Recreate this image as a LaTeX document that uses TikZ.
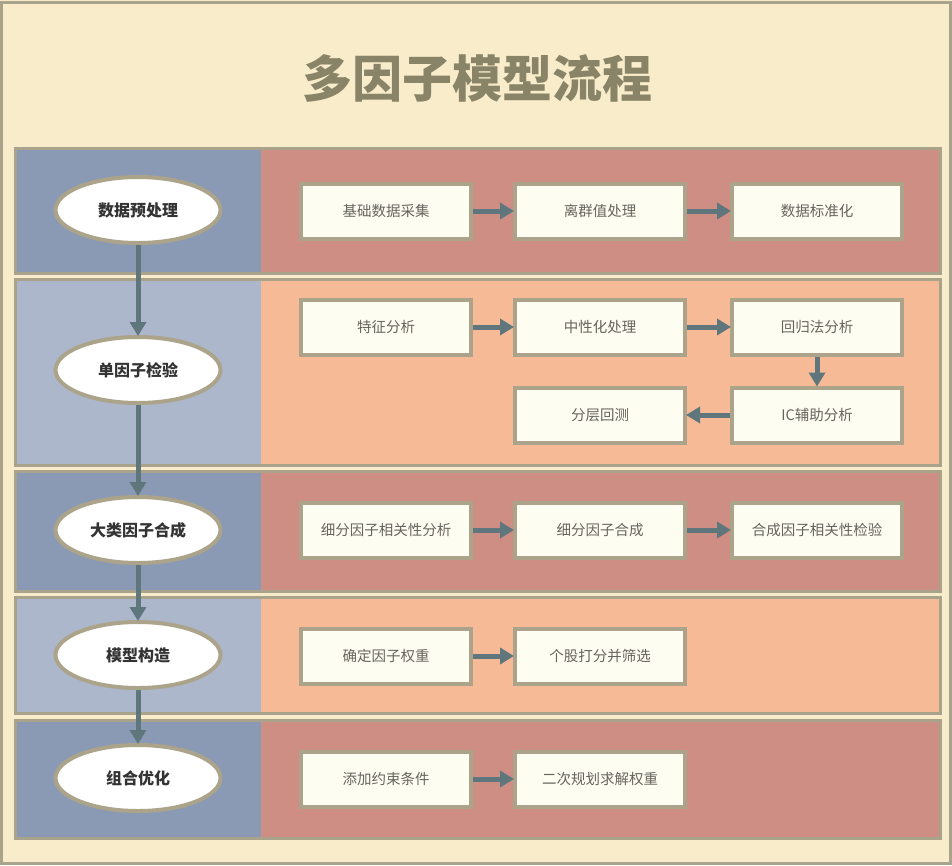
\documentclass[tikz,border=0pt]{standalone}
\usepackage{fontspec}
\newfontfamily\cjk{Noto Sans CJK SC}
\usetikzlibrary{arrows.meta,shapes.geometric}
\definecolor{bg}{HTML}{F8ECCB}
\definecolor{framec}{HTML}{A9A38C}
\definecolor{blueD}{HTML}{8A9AB4}
\definecolor{blueL}{HTML}{ADB7CB}
\definecolor{rose}{HTML}{CF8E84}
\definecolor{peach}{HTML}{F6BA97}
\definecolor{boxfill}{HTML}{FEFDF1}
\definecolor{boxline}{HTML}{ABA38A}
\definecolor{arrowc}{HTML}{5E767C}
\definecolor{titlec}{HTML}{898468}
\definecolor{boxtext}{HTML}{66645E}
\definecolor{elltext}{HTML}{333333}
\tikzset{
  stage/.style={ellipse, minimum width=165pt, minimum height=66pt, inner sep=0pt,
    fill=white, draw=boxline, line width=4pt, text=elltext,
    font=\cjk\bfseries\fontsize{16}{16}\selectfont},
  stepbox/.style={rectangle, minimum width=170pt, minimum height=55pt, inner sep=0pt,
    fill=boxfill, draw=boxline, line width=4pt, text=boxtext,
    font=\cjk\fontsize{14.5}{14.5}\selectfont},
  flow/.style={draw=arrowc, line width=5pt, -{Triangle[length=14pt,width=16pt]}, shorten >=-1pt},
  lanebox/.style={draw=framec, line width=3pt}
}
\newcommand{\mylane}[4]{%
  \fill[#3] (15,#1) rectangle (261,#2);
  \fill[#4] (261,#1) rectangle (940,#2);
  \draw[lanebox] (15,#1) rectangle (940,#2);
}
\begin{document}
\begin{tikzpicture}[x=1pt,y=-1pt]
\useasboundingbox (0,0) rectangle (952,865);
\fill[bg] (0,0) rectangle (952,865);
\draw[framec, line width=3pt] (1.5,2) rectangle (950.5,863.5);

\node[text=titlec, font=\cjk\bfseries\fontsize{50}{50}\selectfont] (title) at (477,78) {多因子模型流程};

\mylane{148}{273}{blueD}{rose}
\mylane{279}{465}{blueL}{peach}
\mylane{471}{591}{blueD}{rose}
\mylane{597}{713}{blueL}{peach}
\mylane{720}{838}{blueD}{rose}

% stages
\node[stage] (s1) at (138,210) {数据预处理};
\node[stage] (s2) at (138,370) {单因子检验};
\node[stage] (s3) at (138,530) {大类因子合成};
\node[stage] (s4) at (138,655) {模型构造};
\node[stage] (s5) at (138,778) {组合优化};

% steps
\node[stepbox] (a1) at (386,211) {基础数据采集};
\node[stepbox] (a2) at (600,211) {离群值处理};
\node[stepbox] (a3) at (817,211) {数据标准化};

\node[stepbox] (b1) at (386,327) {特征分析};
\node[stepbox] (b2) at (600,327) {中性化处理};
\node[stepbox] (b3) at (817,327) {回归法分析};
\node[stepbox] (b4) at (817,415) {IC辅助分析};
\node[stepbox] (b5) at (600,415) {分层回测};

\node[stepbox] (c1) at (386,530) {细分因子相关性分析};
\node[stepbox] (c2) at (600,530) {细分因子合成};
\node[stepbox] (c3) at (817,530) {合成因子相关性检验};

\node[stepbox] (d1) at (386,656) {确定因子权重};
\node[stepbox] (d2) at (600,656) {个股打分并筛选};

\node[stepbox] (e1) at (386,779) {添加约束条件};
\node[stepbox] (e2) at (600,779) {二次规划求解权重};

% vertical flow
\draw[flow] (s1) -- (s2);
\draw[flow] (s2) -- (s3);
\draw[flow] (s3) -- (s4);
\draw[flow] (s4) -- (s5);

% horizontal flow
\draw[flow] (a1) -- (a2);
\draw[flow] (a2) -- (a3);
\draw[flow] (b1) -- (b2);
\draw[flow] (b2) -- (b3);
\draw[flow] (b3) -- (b4);
\draw[flow] (b4) -- (b5);
\draw[flow] (c1) -- (c2);
\draw[flow] (c2) -- (c3);
\draw[flow] (d1) -- (d2);
\draw[flow] (e1) -- (e2);
\end{tikzpicture}
\end{document}
